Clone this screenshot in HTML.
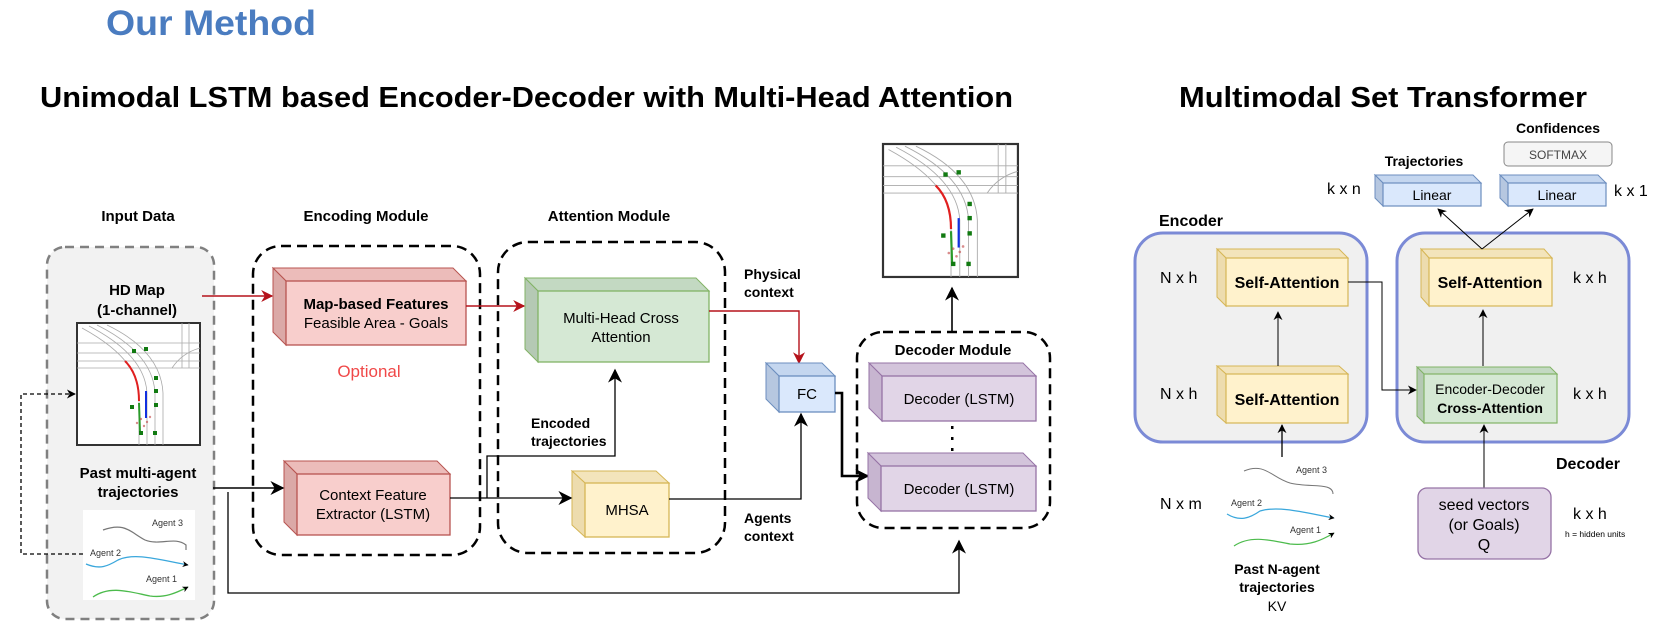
<!DOCTYPE html>
<html><head><meta charset="utf-8"><style>
html,body{margin:0;padding:0;background:#fff;}
svg{display:block;}
text{font-family:"Liberation Sans",Arial,sans-serif;}
.b{font-weight:bold;}
</style></head><body>
<svg width="1663" height="622" viewBox="0 0 1663 622" xmlns="http://www.w3.org/2000/svg">
<defs>
<marker id="ak" viewBox="0 0 10 10" refX="9" refY="5" markerWidth="9" markerHeight="9" markerUnits="userSpaceOnUse" orient="auto"><path d="M0,0 L10,5 L0,10 L3,5 z" fill="#000"/></marker>
<marker id="akb" viewBox="0 0 10 10" refX="9" refY="5" markerWidth="14" markerHeight="14" markerUnits="userSpaceOnUse" orient="auto"><path d="M0,0 L10,5 L0,10 L3,5 z" fill="#000"/></marker>
<marker id="ar" viewBox="0 0 10 10" refX="9" refY="5" markerWidth="12" markerHeight="12" markerUnits="userSpaceOnUse" orient="auto"><path d="M0,0 L10,5 L0,10 L3,5 z" fill="#b5121b"/></marker>
<marker id="as" viewBox="0 0 10 10" refX="9" refY="5" markerWidth="6" markerHeight="6" markerUnits="userSpaceOnUse" orient="auto"><path d="M0,0 L10,5 L0,10 L3,5 z" fill="currentColor"/></marker>
<g id="mapimg">
 <rect x="0" y="0" width="123" height="122" fill="#fff" stroke="#333" stroke-width="2"/>
 <g fill="none" stroke="#aaa" stroke-width="0.8">
  <path d="M0,20 L123,20 M0,30 L123,30 M0,38 L123,38 M0,45 L123,45"/>
  <path d="M5,5 Q60,35 62,70 L62,122 M12,3 Q68,32 70,70 L70,122 M20,2 Q76,30 78,70 L78,122 M30,2 Q84,28 86,70 L86,122"/>
  <path d="M105,0 L105,45 M112,0 L112,45 M95,45 Q105,30 123,25"/>
 </g>
 <path d="M48,38 Q62,52 62,78" fill="none" stroke="#e02020" stroke-width="2"/>
 <path d="M69,68 L69,95" fill="none" stroke="#1030e0" stroke-width="2"/>
 <path d="M62,80 L63,110" fill="none" stroke="#2a9a2a" stroke-width="2"/>
 <g fill="#117a11"><rect x="55" y="26" width="4" height="4"/><rect x="67" y="24" width="4" height="4"/><rect x="77" y="53" width="4" height="4"/><rect x="77" y="66" width="4" height="4"/><rect x="77" y="80" width="4" height="4"/><rect x="53" y="82" width="4" height="4"/><rect x="62" y="108" width="4" height="4"/><rect x="76" y="108" width="4" height="4"/></g>
 <g fill="#c04040" opacity="0.6"><circle cx="64" cy="96" r="1.2"/><circle cx="70" cy="99" r="1.2"/><circle cx="60" cy="100" r="1.2"/><circle cx="67" cy="103" r="1.2"/><circle cx="73" cy="94" r="1.2"/></g>
</g>
</defs>

<text x="106" y="35" class="b" font-size="35" fill="#4a7cc0" textLength="210" lengthAdjust="spacingAndGlyphs">Our Method</text>
<text x="40" y="107" class="b" font-size="29" fill="#000" textLength="973" lengthAdjust="spacingAndGlyphs">Unimodal LSTM based Encoder-Decoder with Multi-Head Attention</text>
<text x="1179" y="107" class="b" font-size="29" fill="#000" textLength="408" lengthAdjust="spacingAndGlyphs">Multimodal Set Transformer</text>

<g class="b" font-size="15" text-anchor="middle" fill="#000">
<text x="138" y="221">Input Data</text>
<text x="366" y="221">Encoding Module</text>
<text x="609" y="221">Attention Module</text>
</g>

<rect x="47" y="247" width="167" height="372" rx="18" fill="#f2f2f2" stroke="#808080" stroke-width="2.5" stroke-dasharray="9,6"/>
<g class="b" font-size="15" text-anchor="middle">
<text x="137" y="295">HD Map</text>
<text x="137" y="315">(1-channel)</text>
<text x="138" y="478">Past multi-agent</text>
<text x="138" y="497">trajectories</text>
</g>
<use href="#mapimg" x="77" y="323"/>
<rect x="83" y="510" width="112" height="90" fill="#fff"/>
<g font-size="9" fill="#333">
<text x="152" y="526">Agent 3</text>
<text x="90" y="556">Agent 2</text>
<text x="146" y="582">Agent 1</text>
</g>
<path d="M103,530 C125,522 130,532 145,540 C160,546 175,536 186,545 L186,550" fill="none" stroke="#777" stroke-width="1.2"/>
<path d="M86,564 C100,570 108,566 118,560 C135,552 160,560 188,565" fill="none" stroke="#3aa7dc" stroke-width="1.3" color="#3aa7dc" marker-end="url(#as)"/>
<path d="M93,597 C110,585 130,592 150,596 C165,598 176,593 188,587" fill="none" stroke="#4cbb4c" stroke-width="1.3" color="#4cbb4c" marker-end="url(#as)"/>
<path d="M83,554 L21,554 L21,394 L75,394" fill="none" stroke="#000" stroke-width="1.3" stroke-dasharray="4,3" marker-end="url(#ak)"/>

<rect x="253" y="246" width="227" height="309" rx="28" fill="none" stroke="#000" stroke-width="2.5" stroke-dasharray="10,6"/>
<polygon points="273,268 453,268 466,281 286,281" fill="#ecbcba" stroke="#b85450"/>
<polygon points="273,268 286,281 286,345 273,332" fill="#dba9a7" stroke="#b85450"/>
<rect x="286" y="281" width="180" height="64" fill="#f8cecc" stroke="#b85450" stroke-width="1.3"/>
<text x="376" y="309" class="b" font-size="15" text-anchor="middle">Map-based Features</text>
<text x="376" y="328" font-size="15" text-anchor="middle">Feasible Area - Goals</text>
<text x="369" y="377" font-size="17" text-anchor="middle" fill="#f04848">Optional</text>
<polygon points="284,461 437,461 450,474 297,474" fill="#ecbcba" stroke="#b85450"/>
<polygon points="284,461 297,474 297,535 284,522" fill="#dba9a7" stroke="#b85450"/>
<rect x="297" y="474" width="153" height="61" fill="#f8cecc" stroke="#b85450" stroke-width="1.3"/>
<text x="373" y="500" font-size="15" text-anchor="middle">Context Feature</text>
<text x="373" y="519" font-size="15" text-anchor="middle">Extractor (LSTM)</text>
<path d="M202,296 L272,296" stroke="#b5121b" stroke-width="1.6" fill="none" marker-end="url(#ar)"/>
<path d="M213,488 L283,488" stroke="#000" stroke-width="1.6" fill="none" marker-end="url(#akb)"/>
<path d="M228,492 L228,593 L959,593 L959,541" stroke="#000" stroke-width="1.3" fill="none" marker-end="url(#akb)"/>

<rect x="498" y="242" width="227" height="311" rx="30" fill="none" stroke="#000" stroke-width="2.5" stroke-dasharray="10,6"/>
<polygon points="525,278 696,278 709,291 538,291" fill="#c3d9c2" stroke="#82b366"/>
<polygon points="525,278 538,291 538,362 525,349" fill="#b5c9b4" stroke="#82b366"/>
<rect x="538" y="291" width="171" height="71" fill="#d5e8d4" stroke="#82b366" stroke-width="1.3"/>
<text x="621" y="323" font-size="15" text-anchor="middle">Multi-Head Cross</text>
<text x="621" y="342" font-size="15" text-anchor="middle">Attention</text>
<path d="M466,306 L524,306" stroke="#b5121b" stroke-width="1.6" fill="none" marker-end="url(#ar)"/>
<polygon points="572,471 656,471 669,483 585,483" fill="#f3e4bb" stroke="#d6b656"/>
<polygon points="572,471 585,483 585,537 572,525" fill="#eddcae" stroke="#d6b656"/>
<rect x="585" y="483" width="84" height="54" fill="#fff2cc" stroke="#d6b656" stroke-width="1.3"/>
<text x="627" y="515" font-size="15" text-anchor="middle">MHSA</text>
<path d="M450,498 L571,498" stroke="#000" stroke-width="1.3" fill="none" marker-end="url(#akb)"/>
<path d="M487,498 L487,456 L615,456 L615,370" stroke="#000" stroke-width="1.3" fill="none" marker-end="url(#akb)"/>
<g class="b" font-size="14">
<text x="531" y="428">Encoded</text>
<text x="531" y="446">trajectories</text>
<text x="744" y="279">Physical</text>
<text x="744" y="297">context</text>
<text x="744" y="523">Agents</text>
<text x="744" y="541">context</text>
</g>
<path d="M709,311 L799,311 L799,363" stroke="#b5121b" stroke-width="1.4" fill="none" marker-end="url(#ar)"/>
<path d="M669,499 L801,499 L801,414" stroke="#000" stroke-width="1.3" fill="none" marker-end="url(#akb)"/>
<polygon points="766,363 822,363 835,376 779,376" fill="#c4d6ef" stroke="#6c8ebf"/>
<polygon points="766,363 779,376 779,412 766,399" fill="#b6c7e0" stroke="#6c8ebf"/>
<rect x="779" y="376" width="56" height="36" fill="#dae8fc" stroke="#6c8ebf" stroke-width="1.3"/>
<text x="807" y="399" font-size="15" text-anchor="middle">FC</text>
<path d="M835,393 L842,393 L842,476 L868,476" stroke="#000" stroke-width="2.6" fill="none" marker-end="url(#akb)"/>

<use href="#mapimg" x="883" y="144" transform="translate(883,144) scale(1.097,1.09) translate(-883,-144)"/>
<path d="M952,332 L952,288" stroke="#000" stroke-width="1.6" fill="none" marker-end="url(#akb)"/>
<rect x="857" y="332" width="193" height="196" rx="26" fill="none" stroke="#000" stroke-width="2.5" stroke-dasharray="10,6"/>
<text x="953" y="355" class="b" font-size="15" text-anchor="middle">Decoder Module</text>
<polygon points="869,363 1023,363 1036,376 882,376" fill="#d3c4db" stroke="#9673a6"/>
<polygon points="869,363 882,376 882,421 869,408" fill="#c7b5d0" stroke="#9673a6"/>
<rect x="882" y="376" width="154" height="45" fill="#e1d5e7" stroke="#9673a6" stroke-width="1.3"/>
<text x="959" y="404" font-size="15" text-anchor="middle">Decoder (LSTM)</text>
<g fill="#000"><rect x="951" y="426" width="2.5" height="3"/><rect x="951" y="437" width="2.5" height="3"/><rect x="951" y="448" width="2.5" height="3"/></g>
<polygon points="868,453 1023,453 1036,466 881,466" fill="#d3c4db" stroke="#9673a6"/>
<polygon points="868,453 881,466 881,511 868,498" fill="#c7b5d0" stroke="#9673a6"/>
<rect x="881" y="466" width="155" height="45" fill="#e1d5e7" stroke="#9673a6" stroke-width="1.3"/>
<text x="959" y="494" font-size="15" text-anchor="middle">Decoder (LSTM)</text>

<text x="1159" y="226" class="b" font-size="16">Encoder</text>
<text x="1556" y="469" class="b" font-size="16">Decoder</text>
<rect x="1135" y="233" width="232" height="209" rx="28" fill="#f0f0f0" stroke="#7b8ad6" stroke-width="3"/>
<rect x="1397" y="233" width="232" height="209" rx="28" fill="#f0f0f0" stroke="#7b8ad6" stroke-width="3"/>
<g font-size="16" fill="#000">
<text x="1160" y="283">N x h</text>
<text x="1160" y="399">N x h</text>
<text x="1160" y="509">N x m</text>
<text x="1573" y="283">k x h</text>
<text x="1573" y="399">k x h</text>
<text x="1573" y="519">k x h</text>
<text x="1327" y="194">k x n</text>
<text x="1614" y="196">k x 1</text>
</g>
<text x="1565" y="537" font-size="8.5">h = hidden units</text>
<polygon points="1217,249 1339,249 1348,258 1226,258" fill="#f3e4bb" stroke="#d6b656"/>
<polygon points="1217,249 1226,258 1226,306 1217,297" fill="#eddcae" stroke="#d6b656"/>
<rect x="1226" y="258" width="122" height="48" fill="#fff2cc" stroke="#d6b656" stroke-width="1.2"/>
<text x="1287" y="288" class="b" font-size="16" text-anchor="middle">Self-Attention</text>
<polygon points="1217,366 1339,366 1348,374 1226,374" fill="#f3e4bb" stroke="#d6b656"/>
<polygon points="1217,366 1226,374 1226,423 1217,415" fill="#eddcae" stroke="#d6b656"/>
<rect x="1226" y="374" width="122" height="49" fill="#fff2cc" stroke="#d6b656" stroke-width="1.2"/>
<text x="1287" y="405" class="b" font-size="16" text-anchor="middle">Self-Attention</text>
<polygon points="1421,249 1544,249 1552,258 1429,258" fill="#f3e4bb" stroke="#d6b656"/>
<polygon points="1421,249 1429,258 1429,306 1421,297" fill="#eddcae" stroke="#d6b656"/>
<rect x="1429" y="258" width="123" height="48" fill="#fff2cc" stroke="#d6b656" stroke-width="1.2"/>
<text x="1490" y="288" class="b" font-size="16" text-anchor="middle">Self-Attention</text>
<polygon points="1417,367 1550,367 1557,374 1424,374" fill="#c3d9c2" stroke="#82b366"/>
<polygon points="1417,367 1424,374 1424,423 1417,416" fill="#b5c9b4" stroke="#82b366"/>
<rect x="1424" y="374" width="133" height="49" fill="#d5e8d4" stroke="#82b366" stroke-width="1.2"/>
<text x="1490" y="394" font-size="14" text-anchor="middle">Encoder-Decoder</text>
<text x="1490" y="413" class="b" font-size="14" text-anchor="middle">Cross-Attention</text>
<polygon points="1375,175 1473,175 1481,183 1383,183" fill="#c4d6ef" stroke="#6c8ebf"/>
<polygon points="1375,175 1383,183 1383,206 1375,198" fill="#b6c7e0" stroke="#6c8ebf"/>
<rect x="1383" y="183" width="98" height="23" fill="#dae8fc" stroke="#6c8ebf" stroke-width="1.2"/>
<text x="1432" y="200" font-size="14" text-anchor="middle">Linear</text>
<polygon points="1500,175 1598,175 1606,183 1508,183" fill="#c4d6ef" stroke="#6c8ebf"/>
<polygon points="1500,175 1508,183 1508,206 1500,198" fill="#b6c7e0" stroke="#6c8ebf"/>
<rect x="1508" y="183" width="98" height="23" fill="#dae8fc" stroke="#6c8ebf" stroke-width="1.2"/>
<text x="1557" y="200" font-size="14" text-anchor="middle">Linear</text>
<text x="1424" y="166" class="b" font-size="14" text-anchor="middle">Trajectories</text>
<text x="1558" y="133" class="b" font-size="14" text-anchor="middle">Confidences</text>
<rect x="1504" y="142" width="108" height="24" rx="4" fill="#f5f5f5" stroke="#888" stroke-width="1"/>
<text x="1558" y="159" font-size="12" fill="#444" text-anchor="middle">SOFTMAX</text>
<path d="M1282,457 L1282,425" stroke="#000" stroke-width="1.3" fill="none" marker-end="url(#ak)"/>
<path d="M1278,366 L1278,312" stroke="#000" stroke-width="1" fill="none" marker-end="url(#ak)"/>
<path d="M1348,282 L1382,282 L1382,390 L1416,390" stroke="#000" stroke-width="1" fill="none" marker-end="url(#ak)"/>
<path d="M1483,366 L1483,310" stroke="#000" stroke-width="1" fill="none" marker-end="url(#ak)"/>
<path d="M1484,488 L1484,425" stroke="#000" stroke-width="1" fill="none" marker-end="url(#ak)"/>
<path d="M1482,249 L1438,209" stroke="#000" stroke-width="1" fill="none" marker-end="url(#ak)"/>
<path d="M1482,249 L1533,209" stroke="#000" stroke-width="1" fill="none" marker-end="url(#ak)"/>
<rect x="1418" y="488" width="133" height="71" rx="9" fill="#e1d5e7" stroke="#9673a6" stroke-width="1.3"/>
<g font-size="16" text-anchor="middle">
<text x="1484" y="510">seed vectors</text>
<text x="1484" y="530">(or Goals)</text>
<text x="1484" y="550">Q</text>
</g>
<g font-size="9" fill="#333">
<text x="1296" y="473">Agent 3</text>
<text x="1231" y="506">Agent 2</text>
<text x="1290" y="533">Agent 1</text>
</g>
<path d="M1244,471 C1265,462 1272,478 1290,483 C1310,488 1333,482 1333,494" fill="none" stroke="#777" stroke-width="1"/>
<path d="M1227,514 C1240,522 1250,518 1260,511 C1280,505 1310,514 1334,518" fill="none" stroke="#3aa7dc" stroke-width="1.2" color="#3aa7dc" marker-end="url(#as)"/>
<path d="M1234,546 C1250,535 1270,540 1290,544 C1310,546 1322,540 1334,533" fill="none" stroke="#4cbb4c" stroke-width="1.2" color="#4cbb4c" marker-end="url(#as)"/>
<g class="b" font-size="14" text-anchor="middle">
<text x="1277" y="574">Past N-agent</text>
<text x="1277" y="592">trajectories</text>
</g>
<text x="1277" y="611" font-size="14" text-anchor="middle">KV</text>
</svg>
</body></html>
